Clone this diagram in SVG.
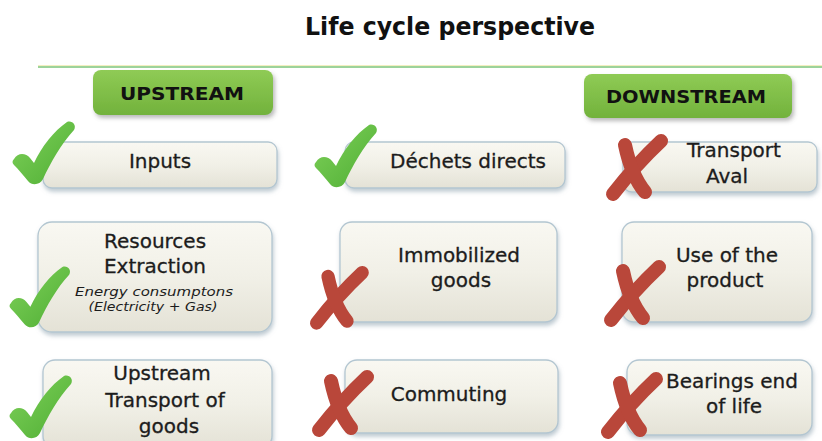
<svg xmlns="http://www.w3.org/2000/svg" xmlns:xlink="http://www.w3.org/1999/xlink" width="822" height="441" viewBox="0 0 822 441">
<style>
.box{fill:url(#boxg);stroke:#b3c6d1;stroke-width:1.3;filter:url(#sh)}
.gbox{fill:url(#greeng);filter:url(#sh2)}
.lbl{font-family:"DejaVu Sans","Verdana",sans-serif;font-size:20px;fill:#1c1c1c;stroke:#1c1c1c;stroke-width:0.3;text-anchor:middle}
.hdr{font-family:"DejaVu Sans Condensed","DejaVu Sans",sans-serif;font-size:18px;font-weight:bold;fill:#111;text-anchor:middle}
.it{font-family:"DejaVu Sans","Verdana",sans-serif;font-size:13px;font-style:italic;fill:#1c1c1c;text-anchor:middle}
.xs{fill:none;stroke:#b9473a;stroke-width:14;stroke-linecap:round}
</style>
<defs>
<linearGradient id="boxg" x1="0" y1="0" x2="0" y2="1">
<stop offset="0" stop-color="#f9f8f2"/>
<stop offset="0.5" stop-color="#f1f0e7"/>
<stop offset="1" stop-color="#e4e2d6"/>
</linearGradient>
<linearGradient id="greeng" x1="0" y1="0" x2="0" y2="1">
<stop offset="0" stop-color="#8fcb55"/>
<stop offset="1" stop-color="#72b23c"/>
</linearGradient>
<linearGradient id="chkg" x1="0" y1="0" x2="1" y2="1">
<stop offset="0" stop-color="#7fd15a"/>
<stop offset="1" stop-color="#4fae34"/>
</linearGradient>
<filter id="sh" x="-10%" y="-10%" width="125%" height="140%">
<feDropShadow dx="1" dy="3" stdDeviation="2" flood-color="#7f95a5" flood-opacity="0.5"/>
</filter>
<filter id="sh2" x="-10%" y="-10%" width="125%" height="150%">
<feDropShadow dx="2" dy="3" stdDeviation="2" flood-color="#666" flood-opacity="0.45"/>
</filter>
<g id="chk">
<path d="M1,37 C5,30 13,31 17,36 L21,41 C29,24 41,9 54,0 C59,-2 64,3 61,8 C48,22 38,40 30,57 C27,63 19,64 15,59 C10,53 5,47 1,43 C-1,41 -1,39 1,37 Z" fill="url(#chkg)"/>
</g>
<g id="xm">
<path class="xs" d="M56,7 C40,22 22,42 8,60"/>
<path class="xs" d="M20,11 C24,30 30,46 40,58"/>
</g>
</defs>
<rect width="822" height="441" fill="#ffffff"/>
<g id="title">
<text x="450" y="35" font-family="DejaVu Sans Condensed, DejaVu Sans, sans-serif" font-size="24" font-weight="bold" fill="#111" text-anchor="middle" textLength="290" lengthAdjust="spacingAndGlyphs">Life cycle perspective</text>
<line x1="38" y1="67" x2="822" y2="67" stroke="#9dd39a" stroke-width="2"/>
<line x1="38" y1="65.5" x2="822" y2="65.5" stroke="#f3efc0" stroke-width="1"/>
</g>
<g id="upstream">
<rect class="gbox" x="93" y="70" width="180" height="45" rx="8"/>
<text class="hdr" x="182" y="100" textLength="124" lengthAdjust="spacingAndGlyphs">UPSTREAM</text>
</g>
<g id="downstream">
<rect class="gbox" x="584" y="74" width="208" height="44" rx="8"/>
<text class="hdr" x="686" y="103" textLength="160" lengthAdjust="spacingAndGlyphs">DOWNSTREAM</text>
</g>
<g id="inputs">
<rect class="box" x="43" y="142" width="234" height="46" rx="9"/>
<text class="lbl" x="160" y="168">Inputs</text>
<use xlink:href="#chk" transform="translate(13,122)"/>
</g>
<g id="dechets">
<rect class="box" x="345" y="142" width="220" height="46" rx="9"/>
<text class="lbl" x="468" y="168">Déchets directs</text>
<use xlink:href="#chk" transform="translate(315,125)"/>
</g>
<g id="transport-aval">
<rect class="box" x="623" y="142" width="194" height="50" rx="9"/>
<text class="lbl" x="734" y="157">Transport</text>
<text class="lbl" x="727" y="183">Aval</text>
<use xlink:href="#xm" transform="translate(605,134)"/>
</g>
<g id="resources">
<rect class="box" x="38" y="222" width="234" height="110" rx="14"/>
<text class="lbl" x="155" y="248">Resources</text>
<text class="lbl" x="155" y="273">Extraction</text>
<text class="it" x="154" y="296" textLength="158" lengthAdjust="spacingAndGlyphs">Energy consumptons</text>
<text class="it" x="153" y="311" textLength="129" lengthAdjust="spacingAndGlyphs">(Electricity + Gas)</text>
<use xlink:href="#chk" transform="translate(10,267) scale(0.97)"/>
</g>
<g id="immobilized">
<rect class="box" x="340" y="222" width="217" height="100" rx="12"/>
<text class="lbl" x="459" y="262">Immobilized</text>
<text class="lbl" x="461" y="287">goods</text>
<use xlink:href="#xm" transform="translate(309,266) scale(0.95)"/>
</g>
<g id="use-of-product">
<rect class="box" x="622" y="222" width="190" height="100" rx="12"/>
<text class="lbl" x="727" y="262">Use of the</text>
<text class="lbl" x="725" y="287">product</text>
<use xlink:href="#xm" transform="translate(603,260)"/>
</g>
<g id="upstream-transport">
<rect class="box" x="43" y="360" width="229" height="88" rx="12"/>
<text class="lbl" x="162" y="380">Upstream</text>
<text class="lbl" x="165" y="407">Transport of</text>
<text class="lbl" x="169" y="433">goods</text>
<use xlink:href="#chk" transform="translate(10,376)"/>
</g>
<g id="commuting">
<rect class="box" x="345" y="360" width="213" height="73" rx="12"/>
<text class="lbl" x="449" y="401">Commuting</text>
<use xlink:href="#xm" transform="translate(311,370)"/>
</g>
<g id="bearings">
<rect class="box" x="627" y="360" width="185" height="75" rx="12"/>
<text class="lbl" x="732" y="388">Bearings end</text>
<text class="lbl" x="734" y="413">of life</text>
<use xlink:href="#xm" transform="translate(600,372)"/>
</g>
</svg>
